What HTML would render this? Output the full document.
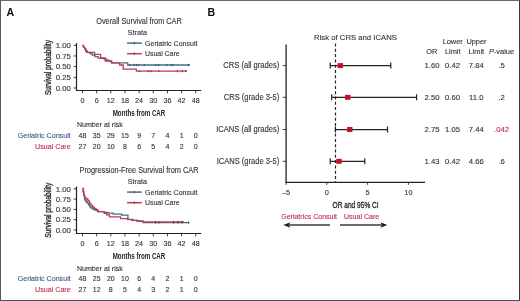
<!DOCTYPE html>
<html><head><meta charset="utf-8"><style>
html,body{margin:0;padding:0;background:#fff;}
#f{position:relative;width:520px;height:301px;overflow:hidden;background:#fff;}
#f svg{position:absolute;left:0;top:0;font-family:"Liberation Sans", sans-serif;filter:blur(0.25px);}
#bd{position:absolute;left:0;top:0;width:518px;height:299px;border-style:solid;border-width:1px;border-color:#686868 #383838 #4e4e4e #585858;}
</style></head><body><div id="f">
<svg width="520" height="301" viewBox="0 0 520 301">
<text x="6.6" y="16" font-size="10.6" text-anchor="start" fill="#111" font-weight="bold" >A</text>
<text x="207.6" y="16" font-size="10.6" text-anchor="start" fill="#111" font-weight="bold" >B</text>
<text transform="translate(139,23.7) scale(0.875,1)" font-size="8.4" text-anchor="middle" fill="#333" font-weight="normal"  stroke="#333" stroke-width="0.12">Overall Survival from CAR</text>
<text transform="translate(127.8,34.6) scale(0.93,1)" font-size="7.7" text-anchor="start" fill="#333" font-weight="normal"  stroke="#333" stroke-width="0.12">Strata</text>
<line x1="127.1" y1="43.1" x2="141.8" y2="43.1" stroke="#436d86" stroke-width="1.5" />
<line x1="134.4" y1="41.9" x2="134.4" y2="44.3" stroke="#2a4a60" stroke-width="0.9" />
<text transform="translate(145,45.7) scale(0.915,1)" font-size="7.7" text-anchor="start" fill="#333" font-weight="normal"  stroke="#333" stroke-width="0.12">Geriatric Consult</text>
<line x1="127.1" y1="53.7" x2="141.8" y2="53.7" stroke="#c0385a" stroke-width="1.5" />
<line x1="134.4" y1="52.5" x2="134.4" y2="54.9" stroke="#8a2a48" stroke-width="0.9" />
<text transform="translate(145,56.2) scale(0.9,1)" font-size="7.7" text-anchor="start" fill="#333" font-weight="normal"  stroke="#333" stroke-width="0.12">Usual Care</text>
<line x1="76.5" y1="43.05" x2="76.5" y2="91.0" stroke="#222" stroke-width="1.2" />
<line x1="73.7" y1="45.25" x2="76.5" y2="45.25" stroke="#222" stroke-width="0.9" />
<text x="70.9" y="48.0" font-size="7.8" text-anchor="end" fill="#333" font-weight="normal"  stroke="#333" stroke-width="0.12">1.00</text>
<line x1="73.7" y1="55.9375" x2="76.5" y2="55.9375" stroke="#222" stroke-width="0.9" />
<text x="70.9" y="58.6875" font-size="7.8" text-anchor="end" fill="#333" font-weight="normal"  stroke="#333" stroke-width="0.12">0.75</text>
<line x1="73.7" y1="66.625" x2="76.5" y2="66.625" stroke="#222" stroke-width="0.9" />
<text x="70.9" y="69.375" font-size="7.8" text-anchor="end" fill="#333" font-weight="normal"  stroke="#333" stroke-width="0.12">0.50</text>
<line x1="73.7" y1="77.3125" x2="76.5" y2="77.3125" stroke="#222" stroke-width="0.9" />
<text x="70.9" y="80.0625" font-size="7.8" text-anchor="end" fill="#333" font-weight="normal"  stroke="#333" stroke-width="0.12">0.25</text>
<line x1="73.7" y1="88.0" x2="76.5" y2="88.0" stroke="#222" stroke-width="0.9" />
<text x="70.9" y="90.75" font-size="7.8" text-anchor="end" fill="#333" font-weight="normal"  stroke="#333" stroke-width="0.12">0.00</text>
<text transform="translate(50.5,67.525) rotate(-90) scale(0.73,1)" font-size="9" text-anchor="middle" fill="#2a2a2a" font-weight="normal" stroke="#2a2a2a" stroke-width="0.35">Survival probability</text>
<line x1="76.0" y1="90.5" x2="201.2" y2="90.5" stroke="#222" stroke-width="1.2" />
<line x1="82.5" y1="90.5" x2="82.5" y2="93.3" stroke="#222" stroke-width="0.9" />
<text transform="translate(82.5,103.0) scale(0.9,1)" font-size="8" text-anchor="middle" fill="#333" font-weight="normal"  stroke="#333" stroke-width="0.12">0</text>
<line x1="96.65625" y1="90.5" x2="96.65625" y2="93.3" stroke="#222" stroke-width="0.9" />
<text transform="translate(96.65625,103.0) scale(0.9,1)" font-size="8" text-anchor="middle" fill="#333" font-weight="normal"  stroke="#333" stroke-width="0.12">6</text>
<line x1="110.8125" y1="90.5" x2="110.8125" y2="93.3" stroke="#222" stroke-width="0.9" />
<text transform="translate(110.8125,103.0) scale(0.9,1)" font-size="8" text-anchor="middle" fill="#333" font-weight="normal"  stroke="#333" stroke-width="0.12">12</text>
<line x1="124.96875" y1="90.5" x2="124.96875" y2="93.3" stroke="#222" stroke-width="0.9" />
<text transform="translate(124.96875,103.0) scale(0.9,1)" font-size="8" text-anchor="middle" fill="#333" font-weight="normal"  stroke="#333" stroke-width="0.12">18</text>
<line x1="139.125" y1="90.5" x2="139.125" y2="93.3" stroke="#222" stroke-width="0.9" />
<text transform="translate(139.125,103.0) scale(0.9,1)" font-size="8" text-anchor="middle" fill="#333" font-weight="normal"  stroke="#333" stroke-width="0.12">24</text>
<line x1="153.28125" y1="90.5" x2="153.28125" y2="93.3" stroke="#222" stroke-width="0.9" />
<text transform="translate(153.28125,103.0) scale(0.9,1)" font-size="8" text-anchor="middle" fill="#333" font-weight="normal"  stroke="#333" stroke-width="0.12">30</text>
<line x1="167.4375" y1="90.5" x2="167.4375" y2="93.3" stroke="#222" stroke-width="0.9" />
<text transform="translate(167.4375,103.0) scale(0.9,1)" font-size="8" text-anchor="middle" fill="#333" font-weight="normal"  stroke="#333" stroke-width="0.12">36</text>
<line x1="181.59375" y1="90.5" x2="181.59375" y2="93.3" stroke="#222" stroke-width="0.9" />
<text transform="translate(181.59375,103.0) scale(0.9,1)" font-size="8" text-anchor="middle" fill="#333" font-weight="normal"  stroke="#333" stroke-width="0.12">42</text>
<line x1="195.75" y1="90.5" x2="195.75" y2="93.3" stroke="#222" stroke-width="0.9" />
<text transform="translate(195.75,103.0) scale(0.9,1)" font-size="8" text-anchor="middle" fill="#333" font-weight="normal"  stroke="#333" stroke-width="0.12">48</text>
<text transform="translate(139,115.6) scale(0.625,1)" font-size="9.9" text-anchor="middle" fill="#222" font-weight="bold">Months from CAR</text>
<text transform="translate(77,127.3) scale(0.96,1)" font-size="7.35" text-anchor="start" fill="#333" font-weight="normal"  stroke="#333" stroke-width="0.12">Number at risk</text>
<text transform="translate(70.7,138.1) scale(0.97,1)" font-size="7.35" text-anchor="end" fill="#3d5a8a" font-weight="normal"  stroke="#3d5a8a" stroke-width="0.12">Geriatric Consult</text>
<text transform="translate(70.7,149.1) scale(0.97,1)" font-size="7.35" text-anchor="end" fill="#bf2c55" font-weight="normal"  stroke="#bf2c55" stroke-width="0.12">Usual Care</text>
<text x="82.5" y="138.1" font-size="7" text-anchor="middle" fill="#333" font-weight="normal"  stroke="#333" stroke-width="0.12">48</text>
<text x="82.5" y="149.1" font-size="7" text-anchor="middle" fill="#333" font-weight="normal"  stroke="#333" stroke-width="0.12">27</text>
<text x="96.65625" y="138.1" font-size="7" text-anchor="middle" fill="#333" font-weight="normal"  stroke="#333" stroke-width="0.12">35</text>
<text x="96.65625" y="149.1" font-size="7" text-anchor="middle" fill="#333" font-weight="normal"  stroke="#333" stroke-width="0.12">20</text>
<text x="110.8125" y="138.1" font-size="7" text-anchor="middle" fill="#333" font-weight="normal"  stroke="#333" stroke-width="0.12">29</text>
<text x="110.8125" y="149.1" font-size="7" text-anchor="middle" fill="#333" font-weight="normal"  stroke="#333" stroke-width="0.12">10</text>
<text x="124.96875" y="138.1" font-size="7" text-anchor="middle" fill="#333" font-weight="normal"  stroke="#333" stroke-width="0.12">15</text>
<text x="124.96875" y="149.1" font-size="7" text-anchor="middle" fill="#333" font-weight="normal"  stroke="#333" stroke-width="0.12">8</text>
<text x="139.125" y="138.1" font-size="7" text-anchor="middle" fill="#333" font-weight="normal"  stroke="#333" stroke-width="0.12">9</text>
<text x="139.125" y="149.1" font-size="7" text-anchor="middle" fill="#333" font-weight="normal"  stroke="#333" stroke-width="0.12">6</text>
<text x="153.28125" y="138.1" font-size="7" text-anchor="middle" fill="#333" font-weight="normal"  stroke="#333" stroke-width="0.12">7</text>
<text x="153.28125" y="149.1" font-size="7" text-anchor="middle" fill="#333" font-weight="normal"  stroke="#333" stroke-width="0.12">5</text>
<text x="167.4375" y="138.1" font-size="7" text-anchor="middle" fill="#333" font-weight="normal"  stroke="#333" stroke-width="0.12">4</text>
<text x="167.4375" y="149.1" font-size="7" text-anchor="middle" fill="#333" font-weight="normal"  stroke="#333" stroke-width="0.12">4</text>
<text x="181.59375" y="138.1" font-size="7" text-anchor="middle" fill="#333" font-weight="normal"  stroke="#333" stroke-width="0.12">1</text>
<text x="181.59375" y="149.1" font-size="7" text-anchor="middle" fill="#333" font-weight="normal"  stroke="#333" stroke-width="0.12">2</text>
<text x="195.75" y="138.1" font-size="7" text-anchor="middle" fill="#333" font-weight="normal"  stroke="#333" stroke-width="0.12">0</text>
<text x="195.75" y="149.1" font-size="7" text-anchor="middle" fill="#333" font-weight="normal"  stroke="#333" stroke-width="0.12">0</text>
<polyline points="82.5,45.5 83.5,45.5 83.5,47.3 84.7,47.3 84.7,49.2 85.8,49.2 85.8,51 87,51 87,52.3 89.5,52.3 89.5,53.2 91,53.2 91,54.2 92.5,54.2 92.5,55.2 95,55.2 95,56.6 98,56.6 98,58.1 104,58.1 104,59.2 107,59.2 107,60.4 110,60.4 110,61.7 111.6,61.7 111.6,62.8 127.7,62.8 127.7,65.0 190,65.0 190,65.0" fill="none" stroke="#436d86" stroke-width="1.3" stroke-linejoin="miter"/>
<polyline points="82.5,45.5 83.5,45.5 83.5,47.3 84.7,47.3 84.7,49.2 85.8,49.2 85.8,51 87,51 87,52.3 94.6,52.3 94.6,54.3 100.6,54.3 100.6,58 105.3,58 105.3,61 111.6,61 111.6,62.8 119.6,62.8 119.6,65 123.2,65 123.2,69.1 136.4,69.1 136.4,71.1 187,71.1 187,71.1" fill="none" stroke="#c0385a" stroke-width="1.3" stroke-linejoin="miter"/>
<line x1="130" y1="63.9" x2="130" y2="66.1" stroke="#2a4a60" stroke-width="0.9" />
<line x1="134.2" y1="63.9" x2="134.2" y2="66.1" stroke="#2a4a60" stroke-width="0.9" />
<line x1="136.5" y1="63.9" x2="136.5" y2="66.1" stroke="#2a4a60" stroke-width="0.9" />
<line x1="138.8" y1="63.9" x2="138.8" y2="66.1" stroke="#2a4a60" stroke-width="0.9" />
<line x1="144.2" y1="63.9" x2="144.2" y2="66.1" stroke="#2a4a60" stroke-width="0.9" />
<line x1="155.8" y1="63.9" x2="155.8" y2="66.1" stroke="#2a4a60" stroke-width="0.9" />
<line x1="158.8" y1="63.9" x2="158.8" y2="66.1" stroke="#2a4a60" stroke-width="0.9" />
<line x1="166.9" y1="63.9" x2="166.9" y2="66.1" stroke="#2a4a60" stroke-width="0.9" />
<line x1="171.2" y1="63.9" x2="171.2" y2="66.1" stroke="#2a4a60" stroke-width="0.9" />
<line x1="173" y1="63.9" x2="173" y2="66.1" stroke="#2a4a60" stroke-width="0.9" />
<line x1="188.5" y1="63.9" x2="188.5" y2="66.1" stroke="#2a4a60" stroke-width="0.9" />
<line x1="139.3" y1="70.0" x2="139.3" y2="72.19999999999999" stroke="#8a2a48" stroke-width="0.9" />
<line x1="148.3" y1="70.0" x2="148.3" y2="72.19999999999999" stroke="#8a2a48" stroke-width="0.9" />
<line x1="151" y1="70.0" x2="151" y2="72.19999999999999" stroke="#8a2a48" stroke-width="0.9" />
<line x1="159" y1="70.0" x2="159" y2="72.19999999999999" stroke="#8a2a48" stroke-width="0.9" />
<line x1="177.3" y1="70.0" x2="177.3" y2="72.19999999999999" stroke="#8a2a48" stroke-width="0.9" />
<line x1="182.3" y1="70.0" x2="182.3" y2="72.19999999999999" stroke="#8a2a48" stroke-width="0.9" />
<line x1="185.8" y1="70.0" x2="185.8" y2="72.19999999999999" stroke="#8a2a48" stroke-width="0.9" />
<text transform="translate(139,172.7) scale(0.875,1)" font-size="8.4" text-anchor="middle" fill="#333" font-weight="normal"  stroke="#333" stroke-width="0.12">Progression-Free Survival from CAR</text>
<text transform="translate(127.8,183.6) scale(0.93,1)" font-size="7.7" text-anchor="start" fill="#333" font-weight="normal"  stroke="#333" stroke-width="0.12">Strata</text>
<line x1="127.1" y1="192.1" x2="141.8" y2="192.1" stroke="#436d86" stroke-width="1.5" />
<line x1="134.4" y1="190.9" x2="134.4" y2="193.3" stroke="#2a4a60" stroke-width="0.9" />
<text transform="translate(145,194.7) scale(0.915,1)" font-size="7.7" text-anchor="start" fill="#333" font-weight="normal"  stroke="#333" stroke-width="0.12">Geriatric Consult</text>
<line x1="127.1" y1="202.7" x2="141.8" y2="202.7" stroke="#c0385a" stroke-width="1.5" />
<line x1="134.4" y1="201.5" x2="134.4" y2="203.9" stroke="#8a2a48" stroke-width="0.9" />
<text transform="translate(145,205.2) scale(0.9,1)" font-size="7.7" text-anchor="start" fill="#333" font-weight="normal"  stroke="#333" stroke-width="0.12">Usual Care</text>
<line x1="76.5" y1="186.55" x2="76.5" y2="234.0" stroke="#222" stroke-width="1.2" />
<line x1="73.7" y1="188.75" x2="76.5" y2="188.75" stroke="#222" stroke-width="0.9" />
<text x="70.9" y="191.5" font-size="7.8" text-anchor="end" fill="#333" font-weight="normal"  stroke="#333" stroke-width="0.12">1.00</text>
<line x1="73.7" y1="199.0625" x2="76.5" y2="199.0625" stroke="#222" stroke-width="0.9" />
<text x="70.9" y="201.8125" font-size="7.8" text-anchor="end" fill="#333" font-weight="normal"  stroke="#333" stroke-width="0.12">0.75</text>
<line x1="73.7" y1="209.375" x2="76.5" y2="209.375" stroke="#222" stroke-width="0.9" />
<text x="70.9" y="212.125" font-size="7.8" text-anchor="end" fill="#333" font-weight="normal"  stroke="#333" stroke-width="0.12">0.50</text>
<line x1="73.7" y1="219.6875" x2="76.5" y2="219.6875" stroke="#222" stroke-width="0.9" />
<text x="70.9" y="222.4375" font-size="7.8" text-anchor="end" fill="#333" font-weight="normal"  stroke="#333" stroke-width="0.12">0.25</text>
<line x1="73.7" y1="230.0" x2="76.5" y2="230.0" stroke="#222" stroke-width="0.9" />
<text x="70.9" y="232.75" font-size="7.8" text-anchor="end" fill="#333" font-weight="normal"  stroke="#333" stroke-width="0.12">0.00</text>
<text transform="translate(50.5,210.275) rotate(-90) scale(0.73,1)" font-size="9" text-anchor="middle" fill="#2a2a2a" font-weight="normal" stroke="#2a2a2a" stroke-width="0.35">Survival probability</text>
<line x1="76.0" y1="233.5" x2="201.2" y2="233.5" stroke="#222" stroke-width="1.2" />
<line x1="82.5" y1="233.5" x2="82.5" y2="236.3" stroke="#222" stroke-width="0.9" />
<text transform="translate(82.5,246.0) scale(0.9,1)" font-size="8" text-anchor="middle" fill="#333" font-weight="normal"  stroke="#333" stroke-width="0.12">0</text>
<line x1="96.65625" y1="233.5" x2="96.65625" y2="236.3" stroke="#222" stroke-width="0.9" />
<text transform="translate(96.65625,246.0) scale(0.9,1)" font-size="8" text-anchor="middle" fill="#333" font-weight="normal"  stroke="#333" stroke-width="0.12">6</text>
<line x1="110.8125" y1="233.5" x2="110.8125" y2="236.3" stroke="#222" stroke-width="0.9" />
<text transform="translate(110.8125,246.0) scale(0.9,1)" font-size="8" text-anchor="middle" fill="#333" font-weight="normal"  stroke="#333" stroke-width="0.12">12</text>
<line x1="124.96875" y1="233.5" x2="124.96875" y2="236.3" stroke="#222" stroke-width="0.9" />
<text transform="translate(124.96875,246.0) scale(0.9,1)" font-size="8" text-anchor="middle" fill="#333" font-weight="normal"  stroke="#333" stroke-width="0.12">18</text>
<line x1="139.125" y1="233.5" x2="139.125" y2="236.3" stroke="#222" stroke-width="0.9" />
<text transform="translate(139.125,246.0) scale(0.9,1)" font-size="8" text-anchor="middle" fill="#333" font-weight="normal"  stroke="#333" stroke-width="0.12">24</text>
<line x1="153.28125" y1="233.5" x2="153.28125" y2="236.3" stroke="#222" stroke-width="0.9" />
<text transform="translate(153.28125,246.0) scale(0.9,1)" font-size="8" text-anchor="middle" fill="#333" font-weight="normal"  stroke="#333" stroke-width="0.12">30</text>
<line x1="167.4375" y1="233.5" x2="167.4375" y2="236.3" stroke="#222" stroke-width="0.9" />
<text transform="translate(167.4375,246.0) scale(0.9,1)" font-size="8" text-anchor="middle" fill="#333" font-weight="normal"  stroke="#333" stroke-width="0.12">36</text>
<line x1="181.59375" y1="233.5" x2="181.59375" y2="236.3" stroke="#222" stroke-width="0.9" />
<text transform="translate(181.59375,246.0) scale(0.9,1)" font-size="8" text-anchor="middle" fill="#333" font-weight="normal"  stroke="#333" stroke-width="0.12">42</text>
<line x1="195.75" y1="233.5" x2="195.75" y2="236.3" stroke="#222" stroke-width="0.9" />
<text transform="translate(195.75,246.0) scale(0.9,1)" font-size="8" text-anchor="middle" fill="#333" font-weight="normal"  stroke="#333" stroke-width="0.12">48</text>
<text transform="translate(139,258.9) scale(0.625,1)" font-size="9.9" text-anchor="middle" fill="#222" font-weight="bold">Months from CAR</text>
<text transform="translate(77,270.6) scale(0.96,1)" font-size="7.35" text-anchor="start" fill="#333" font-weight="normal"  stroke="#333" stroke-width="0.12">Number at risk</text>
<text transform="translate(70.7,281.4) scale(0.97,1)" font-size="7.35" text-anchor="end" fill="#3d5a8a" font-weight="normal"  stroke="#3d5a8a" stroke-width="0.12">Geriatric Consult</text>
<text transform="translate(70.7,292.4) scale(0.97,1)" font-size="7.35" text-anchor="end" fill="#bf2c55" font-weight="normal"  stroke="#bf2c55" stroke-width="0.12">Usual Care</text>
<text x="82.5" y="281.4" font-size="7" text-anchor="middle" fill="#333" font-weight="normal"  stroke="#333" stroke-width="0.12">48</text>
<text x="82.5" y="292.4" font-size="7" text-anchor="middle" fill="#333" font-weight="normal"  stroke="#333" stroke-width="0.12">27</text>
<text x="96.65625" y="281.4" font-size="7" text-anchor="middle" fill="#333" font-weight="normal"  stroke="#333" stroke-width="0.12">25</text>
<text x="96.65625" y="292.4" font-size="7" text-anchor="middle" fill="#333" font-weight="normal"  stroke="#333" stroke-width="0.12">12</text>
<text x="110.8125" y="281.4" font-size="7" text-anchor="middle" fill="#333" font-weight="normal"  stroke="#333" stroke-width="0.12">20</text>
<text x="110.8125" y="292.4" font-size="7" text-anchor="middle" fill="#333" font-weight="normal"  stroke="#333" stroke-width="0.12">8</text>
<text x="124.96875" y="281.4" font-size="7" text-anchor="middle" fill="#333" font-weight="normal"  stroke="#333" stroke-width="0.12">10</text>
<text x="124.96875" y="292.4" font-size="7" text-anchor="middle" fill="#333" font-weight="normal"  stroke="#333" stroke-width="0.12">5</text>
<text x="139.125" y="281.4" font-size="7" text-anchor="middle" fill="#333" font-weight="normal"  stroke="#333" stroke-width="0.12">6</text>
<text x="139.125" y="292.4" font-size="7" text-anchor="middle" fill="#333" font-weight="normal"  stroke="#333" stroke-width="0.12">4</text>
<text x="153.28125" y="281.4" font-size="7" text-anchor="middle" fill="#333" font-weight="normal"  stroke="#333" stroke-width="0.12">4</text>
<text x="153.28125" y="292.4" font-size="7" text-anchor="middle" fill="#333" font-weight="normal"  stroke="#333" stroke-width="0.12">3</text>
<text x="167.4375" y="281.4" font-size="7" text-anchor="middle" fill="#333" font-weight="normal"  stroke="#333" stroke-width="0.12">2</text>
<text x="167.4375" y="292.4" font-size="7" text-anchor="middle" fill="#333" font-weight="normal"  stroke="#333" stroke-width="0.12">2</text>
<text x="181.59375" y="281.4" font-size="7" text-anchor="middle" fill="#333" font-weight="normal"  stroke="#333" stroke-width="0.12">1</text>
<text x="181.59375" y="292.4" font-size="7" text-anchor="middle" fill="#333" font-weight="normal"  stroke="#333" stroke-width="0.12">1</text>
<text x="195.75" y="281.4" font-size="7" text-anchor="middle" fill="#333" font-weight="normal"  stroke="#333" stroke-width="0.12">0</text>
<text x="195.75" y="292.4" font-size="7" text-anchor="middle" fill="#333" font-weight="normal"  stroke="#333" stroke-width="0.12">0</text>
<polyline points="82.5,188.5 83.2,188.5 83.2,192 83.8,192 83.8,195.5 84.5,195.5 84.5,199 85.2,199 85.2,200.5 86.2,200.5 86.2,202 87.2,202 87.2,203.2 88.5,203.2 88.5,205 90,205 90,207 91,207 91,208 93,208 93,209.5 96,209.5 96,210.5 98,210.5 98,211.7 104.3,211.7 104.3,212.3 108,212.3 108,213.2 113.3,213.2 113.3,214.1 121.5,214.1 121.5,215.2 127.9,215.2 127.9,219.3 133,219.3 133,220.3 138,220.3 138,221.3 143,221.3 143,222.6 189.5,222.6 189.5,222.6" fill="none" stroke="#436d86" stroke-width="1.3" stroke-linejoin="miter"/>
<polyline points="82.5,188.5 83.2,188.5 83.2,191.5 83.8,191.5 83.8,195 84.5,195 84.5,197.3 86,197.3 86,199 88,199 88,201 89.5,201 89.5,203.3 91,203.3 91,205.3 92.5,205.3 92.5,207 94,207 94,208.5 96,208.5 96,210 98,210 98,211.7 104.3,211.7 104.3,213.3 106.7,213.3 106.7,214.9 109.4,214.9 109.4,216.9 120.6,216.9 120.6,218.7 127.6,218.7 127.6,219.7 131.8,219.7 131.8,220.3 136.5,220.3 136.5,221 143,221 143,221.9 184,221.9 184,221.9" fill="none" stroke="#c0385a" stroke-width="1.3" stroke-linejoin="miter"/>
<line x1="155.5" y1="221.5" x2="155.5" y2="223.7" stroke="#2a4a60" stroke-width="0.9" />
<line x1="159" y1="221.5" x2="159" y2="223.7" stroke="#2a4a60" stroke-width="0.9" />
<line x1="173.5" y1="221.5" x2="173.5" y2="223.7" stroke="#2a4a60" stroke-width="0.9" />
<line x1="178" y1="221.5" x2="178" y2="223.7" stroke="#2a4a60" stroke-width="0.9" />
<line x1="182" y1="221.5" x2="182" y2="223.7" stroke="#2a4a60" stroke-width="0.9" />
<line x1="188.5" y1="221.5" x2="188.5" y2="223.7" stroke="#2a4a60" stroke-width="0.9" />
<line x1="155.5" y1="220.8" x2="155.5" y2="223.0" stroke="#8a2a48" stroke-width="0.9" />
<line x1="173.5" y1="220.8" x2="173.5" y2="223.0" stroke="#8a2a48" stroke-width="0.9" />
<line x1="178" y1="220.8" x2="178" y2="223.0" stroke="#8a2a48" stroke-width="0.9" />
<line x1="182" y1="220.8" x2="182" y2="223.0" stroke="#8a2a48" stroke-width="0.9" />
<text transform="translate(355.5,39.6) scale(0.955,1)" font-size="8.1" text-anchor="middle" fill="#333" font-weight="normal"  stroke="#333" stroke-width="0.12">Risk of CRS and ICANS</text>
<line x1="286.1" y1="44.5" x2="286.1" y2="182.8" stroke="#222" stroke-width="1.3" />
<line x1="285.5" y1="182.35" x2="425" y2="182.35" stroke="#222" stroke-width="1.25" />
<line x1="286.0" y1="182.3" x2="286.0" y2="184.8" stroke="#222" stroke-width="0.9" />
<text transform="translate(286.0,194.5) scale(0.92,1)" font-size="8" text-anchor="middle" fill="#333" font-weight="normal"  stroke="#333" stroke-width="0.12">&#8211;5</text>
<line x1="326.8" y1="182.3" x2="326.8" y2="184.8" stroke="#222" stroke-width="0.9" />
<text transform="translate(326.8,194.5) scale(0.92,1)" font-size="8" text-anchor="middle" fill="#333" font-weight="normal"  stroke="#333" stroke-width="0.12">0</text>
<line x1="367.6" y1="182.3" x2="367.6" y2="184.8" stroke="#222" stroke-width="0.9" />
<text transform="translate(367.6,194.5) scale(0.92,1)" font-size="8" text-anchor="middle" fill="#333" font-weight="normal"  stroke="#333" stroke-width="0.12">5</text>
<line x1="408.4" y1="182.3" x2="408.4" y2="184.8" stroke="#222" stroke-width="0.9" />
<text transform="translate(408.4,194.5) scale(0.92,1)" font-size="8" text-anchor="middle" fill="#333" font-weight="normal"  stroke="#333" stroke-width="0.12">10</text>
<text transform="translate(355.6,207.6) scale(0.7,1)" font-size="9.4" text-anchor="middle" fill="#2a2a2a" font-weight="normal" stroke="#2a2a2a" stroke-width="0.35">OR and 95% CI</text>
<line x1="335.5" y1="43.5" x2="335.5" y2="182" stroke="#222" stroke-width="1.2" stroke-dasharray="3 2.3"/>
<text transform="translate(279.2,68.0) scale(0.9,1)" font-size="8.4" text-anchor="end" fill="#333" font-weight="normal"  stroke="#333" stroke-width="0.12">CRS (all grades)</text>
<line x1="282.8" y1="65.6" x2="286" y2="65.6" stroke="#222" stroke-width="0.9" />
<line x1="330.22720000000004" y1="65.6" x2="390.7744" y2="65.6" stroke="#222" stroke-width="1.25" />
<line x1="330.22720000000004" y1="62.599999999999994" x2="330.22720000000004" y2="68.6" stroke="#222" stroke-width="1.2" />
<line x1="390.7744" y1="62.599999999999994" x2="390.7744" y2="68.6" stroke="#222" stroke-width="1.2" />
<rect x="337.656" y="63.099999999999994" width="5.4" height="5" fill="#c8102e"/>
<text x="432" y="67.89999999999999" font-size="7.7" text-anchor="middle" fill="#333" font-weight="normal"  stroke="#333" stroke-width="0.12">1.60</text>
<text x="452.6" y="67.89999999999999" font-size="7.7" text-anchor="middle" fill="#333" font-weight="normal"  stroke="#333" stroke-width="0.12">0.42</text>
<text x="476.3" y="67.89999999999999" font-size="7.7" text-anchor="middle" fill="#333" font-weight="normal"  stroke="#333" stroke-width="0.12">7.84</text>
<text x="501.6" y="67.89999999999999" font-size="7.7" text-anchor="middle" fill="#333" font-weight="normal"  stroke="#333" stroke-width="0.12">.5</text>
<text transform="translate(279.2,99.7) scale(0.9,1)" font-size="8.4" text-anchor="end" fill="#333" font-weight="normal"  stroke="#333" stroke-width="0.12">CRS (grade 3-5)</text>
<line x1="282.8" y1="97.3" x2="286" y2="97.3" stroke="#222" stroke-width="0.9" />
<line x1="331.696" y1="97.3" x2="416.56" y2="97.3" stroke="#222" stroke-width="1.25" />
<line x1="331.696" y1="94.3" x2="331.696" y2="100.3" stroke="#222" stroke-width="1.2" />
<line x1="416.56" y1="94.3" x2="416.56" y2="100.3" stroke="#222" stroke-width="1.2" />
<rect x="345.0" y="94.8" width="5.4" height="5" fill="#c8102e"/>
<text x="432" y="99.6" font-size="7.7" text-anchor="middle" fill="#333" font-weight="normal"  stroke="#333" stroke-width="0.12">2.50</text>
<text x="452.6" y="99.6" font-size="7.7" text-anchor="middle" fill="#333" font-weight="normal"  stroke="#333" stroke-width="0.12">0.60</text>
<text x="476.3" y="99.6" font-size="7.7" text-anchor="middle" fill="#333" font-weight="normal"  stroke="#333" stroke-width="0.12">11.0</text>
<text x="501.6" y="99.6" font-size="7.7" text-anchor="middle" fill="#333" font-weight="normal"  stroke="#333" stroke-width="0.12">.2</text>
<text transform="translate(279.2,131.9) scale(0.9,1)" font-size="8.4" text-anchor="end" fill="#333" font-weight="normal"  stroke="#333" stroke-width="0.12">ICANS (all grades)</text>
<line x1="282.8" y1="129.5" x2="286" y2="129.5" stroke="#222" stroke-width="0.9" />
<line x1="335.368" y1="129.5" x2="387.5104" y2="129.5" stroke="#222" stroke-width="1.25" />
<line x1="335.368" y1="126.5" x2="335.368" y2="132.5" stroke="#222" stroke-width="1.2" />
<line x1="387.5104" y1="126.5" x2="387.5104" y2="132.5" stroke="#222" stroke-width="1.2" />
<rect x="347.04" y="127.0" width="5.4" height="5" fill="#c8102e"/>
<text x="432" y="131.8" font-size="7.7" text-anchor="middle" fill="#333" font-weight="normal"  stroke="#333" stroke-width="0.12">2.75</text>
<text x="452.6" y="131.8" font-size="7.7" text-anchor="middle" fill="#333" font-weight="normal"  stroke="#333" stroke-width="0.12">1.05</text>
<text x="476.3" y="131.8" font-size="7.7" text-anchor="middle" fill="#333" font-weight="normal"  stroke="#333" stroke-width="0.12">7.44</text>
<text x="501.6" y="131.8" font-size="7.7" text-anchor="middle" fill="#bf2c55" font-weight="normal"  stroke="#bf2c55" stroke-width="0.12">.042</text>
<text transform="translate(279.2,163.70000000000002) scale(0.9,1)" font-size="8.4" text-anchor="end" fill="#333" font-weight="normal"  stroke="#333" stroke-width="0.12">ICANS (grade 3-5)</text>
<line x1="282.8" y1="161.3" x2="286" y2="161.3" stroke="#222" stroke-width="0.9" />
<line x1="330.22720000000004" y1="161.3" x2="364.8256" y2="161.3" stroke="#222" stroke-width="1.25" />
<line x1="330.22720000000004" y1="158.3" x2="330.22720000000004" y2="164.3" stroke="#222" stroke-width="1.2" />
<line x1="364.8256" y1="158.3" x2="364.8256" y2="164.3" stroke="#222" stroke-width="1.2" />
<rect x="336.2688" y="158.8" width="5.4" height="5" fill="#c8102e"/>
<text x="432" y="163.60000000000002" font-size="7.7" text-anchor="middle" fill="#333" font-weight="normal"  stroke="#333" stroke-width="0.12">1.43</text>
<text x="452.6" y="163.60000000000002" font-size="7.7" text-anchor="middle" fill="#333" font-weight="normal"  stroke="#333" stroke-width="0.12">0.42</text>
<text x="476.3" y="163.60000000000002" font-size="7.7" text-anchor="middle" fill="#333" font-weight="normal"  stroke="#333" stroke-width="0.12">4.66</text>
<text x="501.6" y="163.60000000000002" font-size="7.7" text-anchor="middle" fill="#333" font-weight="normal"  stroke="#333" stroke-width="0.12">.6</text>
<text x="452.7" y="44.4" font-size="7.4" text-anchor="middle" fill="#333" font-weight="normal"  stroke="#333" stroke-width="0.12">Lower</text>
<text x="476.5" y="44.4" font-size="7.4" text-anchor="middle" fill="#333" font-weight="normal"  stroke="#333" stroke-width="0.12">Upper</text>
<text x="431.8" y="53.5" font-size="7.4" text-anchor="middle" fill="#333" font-weight="normal"  stroke="#333" stroke-width="0.12">OR</text>
<text x="452.7" y="53.5" font-size="7.4" text-anchor="middle" fill="#333" font-weight="normal"  stroke="#333" stroke-width="0.12">Limit</text>
<text x="476.3" y="53.5" font-size="7.4" text-anchor="middle" fill="#333" font-weight="normal"  stroke="#333" stroke-width="0.12">Limit</text>
<text x="501.5" y="53.5" font-size="7.4" text-anchor="middle" fill="#333" font-weight="normal"  stroke="#333" stroke-width="0.12"><tspan font-style="italic">P</tspan>-value</text>
<text transform="translate(281.2,219.4) scale(0.925,1)" font-size="7.6" text-anchor="start" fill="#bf2c55" font-weight="normal"  stroke="#bf2c55" stroke-width="0.12">Geriatrics Consult</text>
<text transform="translate(344,219.4) scale(0.925,1)" font-size="7.6" text-anchor="start" fill="#bf2c55" font-weight="normal"  stroke="#bf2c55" stroke-width="0.12">Usual Care</text>
<line x1="288.8" y1="225" x2="330" y2="225" stroke="#3a3a3a" stroke-width="1.3" />
<polygon points="283.4,225 290.4,222.2 288.6,225 290.4,227.8" fill="#1a1a1a"/>
<line x1="340" y1="225" x2="381.9" y2="225" stroke="#3a3a3a" stroke-width="1.3" />
<polygon points="387.3,225 380.3,222.2 382.1,225 380.3,227.8" fill="#1a1a1a"/>
</svg><div id="bd"></div></div></body></html>
